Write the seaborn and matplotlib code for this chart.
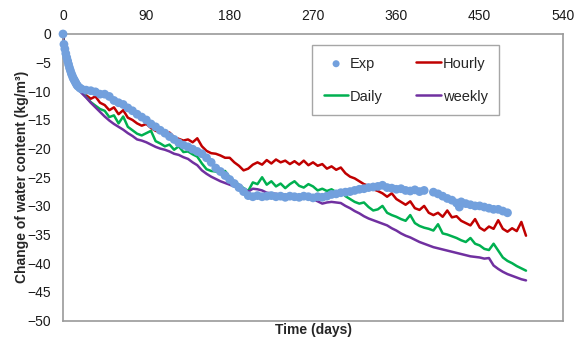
import matplotlib
matplotlib.use('Agg')
import matplotlib.pyplot as plt
import seaborn as sns

# simulation output days (shared by the three model series)
line_days = [0, 1, 2, 3, 5, 7, 10, 13, 16, 20] + list(range(25, 505, 5))

hourly = [0, -1.9, -2.7, -3.5, -4.8, -5.9, -7.4, -8.4, -9.2, -9.9,
          -10.7, -11.3, -10.9, -12.0, -12.4, -13.3, -12.8, -14.0, -13.3, -14.6,
          -15.0, -15.6, -16.0, -15.7, -16.4, -16.9, -17.1, -17.5, -17.2, -18.0,
          -18.3, -18.6, -18.4, -18.9, -18.2, -19.6, -20.4, -20.8, -20.9, -21.2,
          -21.6, -21.6, -22.4, -23.0, -23.8, -23.5, -22.8, -22.4, -22.8, -22.0,
          -22.6, -21.9, -22.4, -22.1, -22.7, -22.2, -22.8, -22.1, -22.9, -22.4,
          -23.0, -22.7, -23.5, -23.1, -23.7, -23.3, -24.3, -24.9, -25.2, -25.7,
          -26.2, -26.5, -27.1, -27.4, -27.8, -28.4, -27.8, -28.8, -29.3, -29.8,
          -29.2, -30.4, -30.7, -30.0, -31.2, -31.6, -31.2, -31.9, -30.8, -32.0,
          -31.8, -32.6, -33.0, -33.4, -32.3, -33.8, -34.3, -33.6, -34.0, -32.5,
          -34.0, -34.5, -33.9, -34.4, -32.8, -35.2]

daily = [0, -1.9, -2.7, -3.5, -4.8, -6.0, -7.5, -8.5, -9.4, -10.1,
         -11.0, -11.9, -12.5, -13.1, -13.4, -14.5, -14.2, -15.6, -14.4, -16.2,
         -16.8, -17.4, -17.7, -17.3, -16.9, -18.7, -19.1, -19.6, -19.3, -20.2,
         -19.6, -20.6, -20.5, -21.0, -21.4, -22.6, -23.6, -23.9, -24.0, -24.3,
         -23.9, -25.0, -25.7, -26.3, -26.9, -27.4, -25.9, -26.2, -25.0, -26.3,
         -25.7, -26.6, -26.1, -26.9, -26.2, -25.7, -26.5, -26.8, -26.2, -26.6,
         -27.3, -27.0, -27.4, -27.1, -27.6, -27.3, -28.3, -28.8, -29.3, -29.6,
         -29.4, -30.2, -30.8, -30.6, -30.0, -31.2, -31.6, -31.9, -32.3, -32.6,
         -31.6, -33.0, -33.5, -33.8, -34.0, -34.3, -33.2, -34.8, -35.0, -35.3,
         -35.6, -36.0, -36.3, -35.6, -36.6, -36.9, -37.5, -37.7, -36.6, -37.8,
         -39.0, -39.6, -40.0, -40.5, -40.9, -41.3]

weekly = [0, -2.0, -2.8, -3.6, -4.9, -6.1, -7.6, -8.7, -9.6, -10.3,
          -11.1, -12.0, -12.8, -13.6, -14.4, -15.1, -15.7, -16.2, -16.7, -17.3,
          -17.8, -18.4, -18.6, -18.9, -19.3, -19.7, -20.0, -20.2, -20.5, -20.9,
          -21.1, -21.5, -21.8, -22.4, -22.9, -23.8, -24.4, -24.9, -25.3, -25.7,
          -26.0, -26.3, -26.6, -26.9, -27.2, -27.5, -27.0, -27.1, -27.3, -27.7,
          -27.8, -27.9, -28.0, -28.1, -28.2, -28.3, -28.3, -28.5, -28.6, -28.8,
          -29.2, -29.6, -29.4, -29.3, -29.4, -29.5, -30.0, -30.4, -30.9, -31.3,
          -31.8, -32.2, -32.5, -32.8, -33.1, -33.4, -33.9, -34.3, -34.8, -35.2,
          -35.5, -35.9, -36.3, -36.6, -36.9, -37.2, -37.4, -37.6, -37.8, -38.0,
          -38.2, -38.4, -38.6, -38.8, -38.9, -39.0, -39.2, -39.1, -40.4, -41.0,
          -41.5, -41.9, -42.2, -42.5, -42.8, -43.0]

# measured values
exp_days = list(range(0, 17)) + [18, 20] + [d for d in range(25, 485, 5) if d != 395] + [428]
exp_vals = [0, -1.8, -2.6, -3.4, -4.1, -4.7, -5.3, -5.9, -6.4, -6.9,
            -7.3, -7.7, -8.0, -8.3, -8.6, -8.9, -9.1, -9.4, -9.6,
            -9.8, -9.9, -10.1, -10.5, -10.5, -10.9, -11.6, -12.0, -12.3, -12.9,
            -13.4, -14.0, -14.5, -15.0, -15.7, -16.2, -16.8, -17.3, -17.9, -18.4,
            -19.0, -19.4, -19.7, -20.1, -20.5, -20.9, -21.6, -22.4, -23.4, -24.0,
            -24.7, -25.4, -26.1, -26.8, -27.5, -28.2, -28.4, -28.2, -28.4, -28.3,
            -28.2, -28.4, -28.3, -28.5, -28.3, -28.4, -28.5, -28.3, -28.4, -28.6,
            -28.4, -28.5, -28.3, -28.0, -27.9, -27.7, -27.6, -27.5, -27.3, -27.1,
            -27.0, -26.8, -26.7, -26.6, -26.4, -26.8, -26.9, -27.1, -27.0, -27.3,
            -27.4, -27.2, -27.5, -27.3, -27.6, -27.9, -28.3, -28.7, -29.0, -29.5,
            -29.3, -29.6, -29.8, -30.0, -30.0, -30.2, -30.4, -30.6, -30.6, -30.9,
            -31.2, -30.2]

x_ticks = [0, 90, 180, 270, 360, 450, 540]
y_ticks = [0, -5, -10, -15, -20, -25, -30, -35, -40, -45, -50]

sns.set_theme(style='white')
plt.rcParams['font.family'] = ['Liberation Sans', 'DejaVu Sans']

fig = plt.figure(figsize=(5.84, 3.41), dpi=100)
ax = fig.add_axes([0.1079, 0.0601, 0.8562, 0.8402])

lw = 1.8
sns.lineplot(x=line_days, y=hourly, color='#c00000', lw=lw, label='Hourly', ax=ax, clip_on=False)
sns.lineplot(x=line_days, y=daily, color='#00b050', lw=lw, label='Daily', ax=ax, clip_on=False)
sns.lineplot(x=line_days, y=weekly, color='#7030a0', lw=lw, label='weekly', ax=ax, clip_on=False)
sns.scatterplot(x=exp_days, y=exp_vals, color='#72a0dd', s=40, edgecolor='none',
                label='Exp', ax=ax, clip_on=False, zorder=3)

ax.set_xlim(0, 540)
ax.set_ylim(-50, 0)
ax.set_xticks(x_ticks)
ax.set_yticks(y_ticks)
ax.xaxis.tick_top()
ax.tick_params(axis='both', length=0, labelsize=10, colors='#1a1a1a')
ax.tick_params(axis='x', pad=8)
ax.tick_params(axis='y', pad=8.5)

for sp in ax.spines.values():
    sp.set_color('#9a9a9a')
    sp.set_linewidth(1.2)

ax.set_xlabel('Time (days)', fontsize=10, fontweight='bold', labelpad=2)
ax.xaxis.set_label_position('bottom')
ax.set_ylabel('Change of water content (kg/m³)', fontsize=10, fontweight='bold')
ax.yaxis.set_label_coords(-0.068, 0.5)

handles, labels = ax.get_legend_handles_labels()
order = [labels.index(n) for n in ['Exp', 'Daily', 'Hourly', 'weekly']]
leg = ax.legend([handles[i] for i in order], [labels[i] for i in order],
                ncol=2, loc='upper left', bbox_to_anchor=(0.498, 0.962),
                fontsize=10.5, frameon=True, fancybox=False, framealpha=1,
                edgecolor='#a6a6a6', labelspacing=1.3, handlelength=1.7,
                handletextpad=0.1, columnspacing=2.3, borderpad=0.8,
                borderaxespad=0, scatterpoints=1, markerscale=0.8)
leg.get_frame().set_linewidth(1.0)

fig.savefig('out.png', dpi=100)
